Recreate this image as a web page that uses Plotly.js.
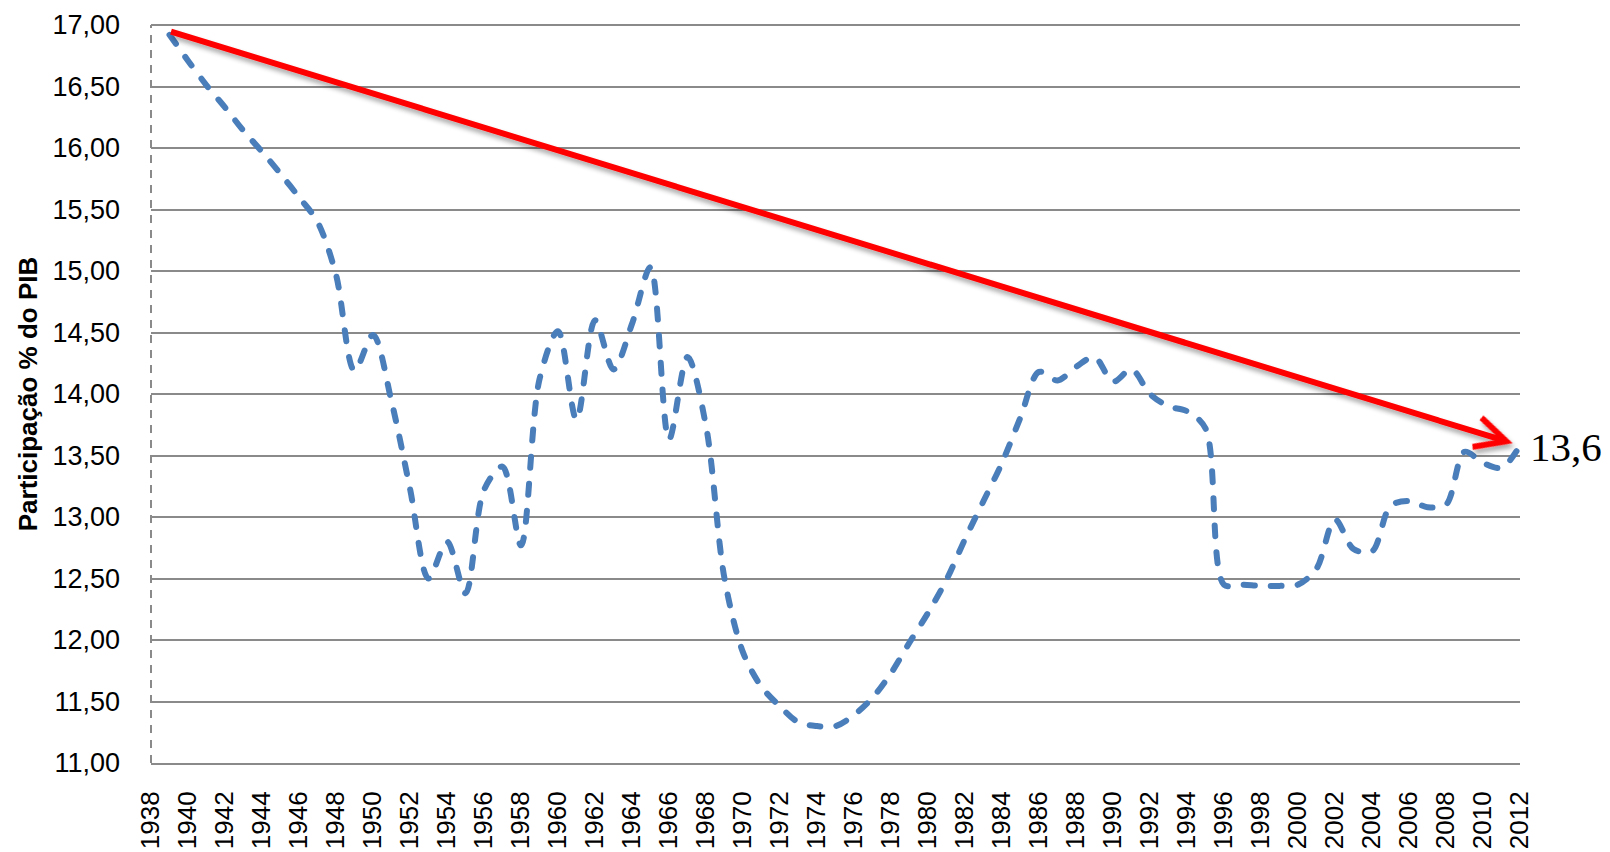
<!DOCTYPE html>
<html>
<head>
<meta charset="utf-8">
<script src="https://cdn.plot.ly/plotly-3.0.1.min.js"></script>
<style>
  html, body { margin: 0; padding: 0; background: #ffffff; }
  #chart { width: 1610px; height: 852px; }
  .scatterlayer .js-line { stroke-linecap: round; stroke-linejoin: round; }
  .annotation-arrow-g { filter: url(#redShadow); }
</style>
</head>
<body>
<svg width="0" height="0" style="position:absolute">
  <defs>
    <filter id="redShadow" x="-10%" y="-10%" width="130%" height="140%">
      <feGaussianBlur in="SourceAlpha" stdDeviation="2.5"/>
      <feOffset dx="2" dy="4" result="off"/>
      <feComponentTransfer><feFuncA type="linear" slope="0.35"/></feComponentTransfer>
      <feMerge><feMergeNode/><feMergeNode in="SourceGraphic"/></feMerge>
    </filter>
  </defs>
</svg>
<div id="chart"></div>
<script>
// ---- data ----
const years = [
  1939, 1940, 1941, 1942, 1943, 1944, 1945, 1946, 1947, 1948,
  1949, 1950, 1951, 1952, 1953, 1954, 1955, 1956, 1957, 1958,
  1959, 1960, 1961, 1962, 1963, 1964, 1965, 1966, 1967, 1968,
  1969, 1970, 1971, 1972, 1973, 1974, 1975, 1976, 1977, 1978,
  1979, 1980, 1981, 1982, 1983, 1984, 1985, 1986, 1987, 1988,
  1989, 1990, 1991, 1992, 1993, 1994, 1995, 1996, 1997, 1998,
  1999, 2000, 2001, 2002, 2003, 2004, 2005, 2006, 2007, 2008,
  2009, 2010, 2011, 2012
];
const participacao = [
  16.92, 16.71, 16.51, 16.33, 16.14, 15.97, 15.79, 15.60, 15.40, 14.97,
  14.19, 14.48, 13.94, 13.23, 12.50, 12.80, 12.38, 13.22, 13.41, 12.77,
  14.12, 14.51, 13.79, 14.60, 14.20, 14.57, 15.03, 13.63, 14.30, 13.74,
  12.50, 11.90, 11.62, 11.46, 11.33, 11.30, 11.30, 11.39, 11.53, 11.73,
  11.98, 12.22, 12.49, 12.82, 13.13, 13.44, 13.81, 14.18, 14.11, 14.22,
  14.30, 14.10, 14.20, 14.00, 13.90, 13.86, 13.72, 12.45, 12.45, 12.44,
  12.44, 12.45, 12.58, 12.98, 12.74, 12.72, 13.09, 13.13, 13.08, 13.10,
  13.53, 13.44, 13.40, 13.58
];
// trend arrow: start and end (year, value)
const trendYears = [1939, 2011.6];
const trendValues = [16.95, 13.6];
const lastLabel = "13,6";
const lastLabelYear = 2012;
const lastLabelValue = 13.6;
const yTitle = "Participação % do PIB";
const tickYears = [];
for (let y = 1938; y <= 2012; y += 2) tickYears.push(y);
const tickYearLabels = tickYears.map(String);

// ---- chart ----
const grid = '#8a8a8a';
const traces = [{
  x: years,
  y: participacao,
  type: 'scatter',
  mode: 'lines',
  line: { color: '#4a7ebb', width: 6, shape: 'spline', smoothing: 0.9, dash: '11px,16px' },
  hoverinfo: 'skip',
  showlegend: false
}];

const layout = {
  width: 1610,
  height: 852,
  margin: { l: 151, r: 90, t: 25, b: 89 },
  paper_bgcolor: '#ffffff',
  plot_bgcolor: '#ffffff',
  separators: ',.',
  showlegend: false,
  font: { family: 'Liberation Sans, Arial, sans-serif', color: '#000000' },
  xaxis: {
    range: [1938, 2012],
    tickmode: 'array',
    tickvals: tickYears,
    ticktext: tickYearLabels,
    tickangle: -90,
    tickfont: { size: 26, color: '#000000' },
    ticks: '',
    ticklabelstandoff: 16,
    showgrid: false,
    zeroline: false,
    showline: true,
    linecolor: grid,
    linewidth: 2,
    fixedrange: true
  },
  yaxis: {
    range: [11, 17],
    dtick: 0.5,
    tick0: 11,
    tickformat: '.2f',
    tickfont: { size: 27, color: '#000000' },
    ticks: '',
    ticklabelstandoff: 30,
    showgrid: true,
    gridcolor: grid,
    gridwidth: 2,
    zeroline: false,
    showline: false,
    fixedrange: true,
    title: { text: '<b>' + yTitle + '</b>', font: { size: 26, color: '#000000' }, standoff: 7 }
  },
  shapes: [{
    type: 'line', xref: 'paper', yref: 'paper',
    x0: 0, x1: 0, y0: 0, y1: 1,
    line: { color: '#8a8a8a', width: 2, dash: '8px,7px' },
    layer: 'above'
  }, {
    type: 'line', xref: 'paper', yref: 'paper',
    x0: 0, x1: 1, y0: 1, y1: 1,
    line: { color: grid, width: 2 },
    layer: 'below'
  }],
  annotations: [{
    x: trendYears[1], y: trendValues[1],
    ax: trendYears[0], ay: trendValues[0],
    xref: 'x', yref: 'y', axref: 'x', ayref: 'y',
    text: '',
    showarrow: true,
    arrowhead: 5,
    arrowsize: 1.0,
    arrowwidth: 6,
    arrowcolor: '#ff0000',
    standoff: 0
  }, {
    x: lastLabelYear, y: lastLabelValue,
    xref: 'x', yref: 'y',
    text: lastLabel,
    showarrow: false,
    xanchor: 'left',
    yanchor: 'middle',
    xshift: 8,
    yshift: -4,
    font: { family: 'Liberation Serif, Times New Roman, serif', size: 41, color: '#000000' }
  }]
};

Plotly.newPlot('chart', traces, layout, { staticPlot: true, displayModeBar: false });
</script>
</body>
</html>
